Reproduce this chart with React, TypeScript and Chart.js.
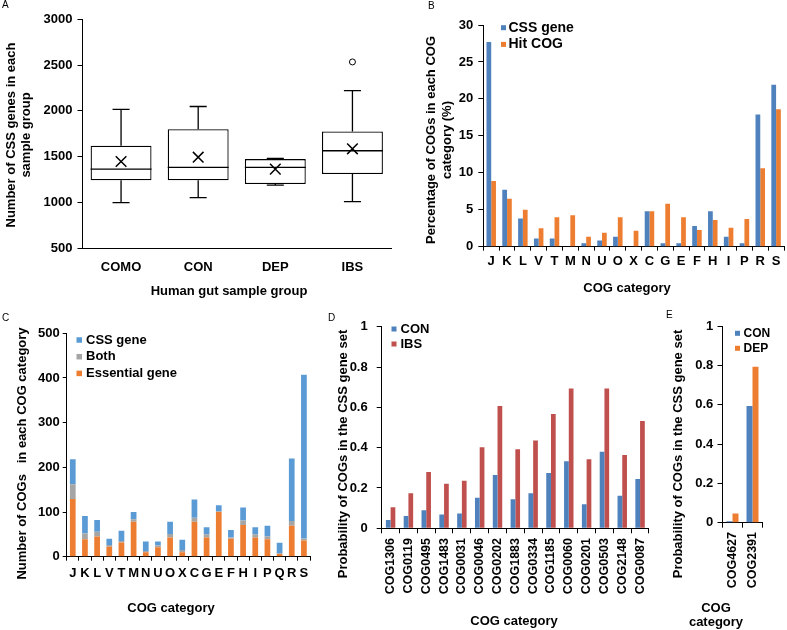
import React, { useEffect, useRef } from "react";
import { Chart, registerables } from "chart.js";

Chart.register(...registerables);
Chart.defaults.color = "#000";

const FONT = "'Liberation Sans', Arial, Helvetica, sans-serif";

// ---------- Panel A data (box plot) ----------
const groupsA = ["COMO", "CON", "DEP", "IBS"];
const minA = [995, 1050, 1188, 1006];
const q1A = [1240, 1240, 1200, 1308];
const medianA = [1362, 1381, 1381, 1563];
const q3A = [1617, 1799, 1472, 1774];
const maxA = [2015, 2047, 1480, 2221];
const meanA = [1446, 1493, 1362, 1584];
const outlierA = [null, null, null, 2534];
const ticksA = { min: 500, max: 3000, step: 500 };

// ---------- Panel B data ----------
const catsB = ["J", "K", "L", "V", "T", "M", "N", "U", "O", "X", "C", "G", "E", "F", "H", "I", "P", "R", "S"];
const cssGeneB = [27.7, 7.7, 3.8, 1.1, 1.1, 0, 0.45, 0.85, 1.35, 0, 4.8, 0.45, 0.45, 2.8, 4.8, 1.35, 0.45, 17.9, 21.9];
const hitCogB = [8.9, 6.5, 5.0, 2.5, 4.0, 4.25, 1.35, 1.9, 4.0, 2.15, 4.8, 5.8, 4.0, 2.25, 3.6, 2.55, 3.75, 10.6, 18.6];
const ticksB = { min: 0, max: 30, step: 5 };

// ---------- Panel C data (stacked) ----------
const catsC = ["J", "K", "L", "V", "T", "M", "N", "U", "O", "X", "C", "G", "E", "F", "H", "I", "P", "Q", "R", "S"];
const essentialC = [129, 39, 45, 22, 32, 78, 10, 21, 43, 10, 78, 43, 100, 40, 71, 43, 39, 6, 69, 36];
const bothC = [33, 13, 11, 4, 3, 6, 3, 4, 8, 5, 9, 7, 2, 3, 10, 7, 7, 2, 11, 5];
const cssGeneC = [56, 39, 26, 14, 23, 16, 21, 9, 27, 23, 41, 16, 13, 17, 29, 16, 23, 23, 140, 366];
const ticksC = { min: 0, max: 500, step: 100 };

// ---------- Panel D data ----------
const cogsD = ["COG1306", "COG0119", "COG0495", "COG1483", "COG0031", "COG0046", "COG0202", "COG1883", "COG0334", "COG1185", "COG0060", "COG0201", "COG0503", "COG2148", "COG0087"];
const conD = [0.041, 0.061, 0.089, 0.069, 0.074, 0.152, 0.264, 0.144, 0.174, 0.274, 0.332, 0.119, 0.38, 0.162, 0.245];
const ibsD = [0.104, 0.174, 0.279, 0.221, 0.236, 0.402, 0.607, 0.392, 0.436, 0.567, 0.693, 0.342, 0.693, 0.364, 0.532];
const ticksD = { min: 0, max: 1, step: 0.2 };

// ---------- Panel E data ----------
const cogsE = ["COG4627", "COG2391"];
const conE = [0.008, 0.593];
const depE = [0.047, 0.793];

// ---------- colours ----------
const BLUE = "#4F81BD";
const LIGHT_BLUE = "#5B9BD5";
const ORANGE = "#ED7D31";
const GRAY = "#A5A5A5";
const RED = "#C0504D";

type Area = { l: number; t: number; r: number; b: number };
type TitleItem = { text: string | string[]; x: number; y: number; rotate?: boolean; size?: number; lh?: number };

function font(size: number) {
  return { family: FONT, size, weight: "bold" as const };
}

function plainNumber(v: any) {
  const n = Math.round(Number(v) * 1000) / 1000;
  return String(n);
}

function titlesPlugin(items: TitleItem[]) {
  return {
    id: "customTitles",
    afterDraw(chart: any) {
      const ctx = chart.ctx as CanvasRenderingContext2D;
      items.forEach((it) => {
        const lines = Array.isArray(it.text) ? it.text : [it.text];
        const size = it.size ?? 13;
        const lh = it.lh ?? size * 1.2;
        ctx.save();
        ctx.font = `bold ${size}px ${FONT}`;
        ctx.fillStyle = "#000";
        ctx.textAlign = "center";
        ctx.textBaseline = "middle";
        ctx.translate(it.x, it.y);
        if (it.rotate) ctx.rotate(-Math.PI / 2);
        const n = lines.length;
        lines.forEach((line, k) => {
          ctx.fillText(line, 0, (k - (n - 1) / 2) * lh);
        });
        ctx.restore();
      });
    },
  };
}

function legendPlugin(spec: { x: number; y: number; row: number; box: number; gap: number; size: number; order: number[] }) {
  return {
    id: "customLegend",
    afterDraw(chart: any) {
      const ctx = chart.ctx as CanvasRenderingContext2D;
      ctx.save();
      spec.order.forEach((di, k) => {
        const ds = chart.data.datasets[di];
        const cy = spec.y + k * spec.row;
        ctx.fillStyle = ds.backgroundColor;
        ctx.fillRect(spec.x, cy - spec.box / 2, spec.box, spec.box);
        ctx.fillStyle = "#000";
        ctx.font = `bold ${spec.size}px ${FONT}`;
        ctx.textAlign = "left";
        ctx.textBaseline = "middle";
        ctx.fillText(ds.label, spec.x + spec.box + spec.gap, cy);
      });
      ctx.restore();
    },
  };
}

const boxWhiskerPlugin = {
  id: "boxWhiskers",
  afterDatasetsDraw(chart: any) {
    const ctx = chart.ctx as CanvasRenderingContext2D;
    const y = chart.scales.y;
    const meta = chart.getDatasetMeta(0);
    ctx.save();
    ctx.strokeStyle = "#000";
    ctx.lineWidth = 1.3;
    groupsA.forEach((_, i) => {
      const el = meta.data[i];
      const cx = el.x;
      const w = el.width;
      const cap = w * 0.28;
      const yMin = y.getPixelForValue(minA[i]);
      const yQ1 = y.getPixelForValue(q1A[i]);
      const yMed = y.getPixelForValue(medianA[i]);
      const yQ3 = y.getPixelForValue(q3A[i]);
      const yMax = y.getPixelForValue(maxA[i]);
      ctx.beginPath();
      ctx.moveTo(cx - w / 2, yMed);
      ctx.lineTo(cx + w / 2, yMed);
      ctx.moveTo(cx, yQ3);
      ctx.lineTo(cx, yMax);
      ctx.moveTo(cx - cap / 2, yMax);
      ctx.lineTo(cx + cap / 2, yMax);
      ctx.moveTo(cx, yQ1);
      ctx.lineTo(cx, yMin);
      ctx.moveTo(cx - cap / 2, yMin);
      ctx.lineTo(cx + cap / 2, yMin);
      ctx.stroke();
    });
    ctx.restore();
  },
};

function yAxis(area: Area, t: { min: number; max: number; step: number }, tickLength: number, padding: number) {
  return {
    type: "linear" as const,
    min: t.min,
    max: t.max,
    ticks: { stepSize: t.step, font: font(13), color: "#000", padding, callback: plainNumber },
    grid: { display: true, drawOnChartArea: false, drawTicks: true, tickLength, color: "#000", lineWidth: 1 },
    border: { display: true, color: "#000", width: 1 },
    afterFit: (s: any) => {
      s.width = area.l;
    },
  };
}

function xAxis(H: number, area: Area, opts: { ticks: boolean; tickLength: number; padding: number; rotate: boolean; size: number; stacked?: boolean }) {
  return {
    type: "category" as const,
    stacked: !!opts.stacked,
    offset: true,
    ticks: {
      font: font(opts.size),
      color: "#000",
      padding: opts.padding,
      autoSkip: false,
      minRotation: opts.rotate ? 90 : 0,
      maxRotation: opts.rotate ? 90 : 0,
    },
    grid: {
      display: opts.ticks,
      drawOnChartArea: false,
      drawTicks: opts.ticks,
      tickLength: opts.tickLength,
      color: "#000",
      lineWidth: 1,
      offset: true,
    },
    border: { display: true, color: "#000", width: 1 },
    afterFit: (s: any) => {
      s.height = H - area.b;
    },
  };
}

function baseOptions(W: number, area: Area) {
  return {
    responsive: false,
    animation: false as const,
    devicePixelRatio: 1,
    layout: { padding: { left: 0, top: area.t, right: W - area.r, bottom: 0 } },
    plugins: { legend: { display: false }, tooltip: { enabled: false }, title: { display: false } },
  };
}

// ---------- configs ----------
function configA(W: number, H: number) {
  const area: Area = { l: 82.5, t: 19.3, r: 396, b: 248 };
  return {
    type: "bar" as const,
    data: {
      labels: groupsA,
      datasets: [
        {
          type: "bar" as const,
          label: "IQR",
          data: q1A.map((q, i) => [q, q3A[i]]),
          backgroundColor: "#fff",
          borderColor: "#000",
          borderWidth: 1.3,
          borderSkipped: false,
          barPercentage: 0.79,
          categoryPercentage: 1,
          order: 3,
        },
        {
          type: "line" as const,
          label: "Mean",
          data: meanA,
          showLine: false,
          pointStyle: "crossRot",
          pointRadius: 7.5,
          pointBorderColor: "#000",
          pointBorderWidth: 1.5,
          pointBackgroundColor: "#000",
          order: 1,
        },
        {
          type: "line" as const,
          label: "Outlier",
          data: outlierA,
          showLine: false,
          pointStyle: "circle",
          pointRadius: 3,
          pointBorderColor: "#000",
          pointBorderWidth: 1,
          pointBackgroundColor: "#fff",
          order: 1,
        },
      ],
    },
    options: {
      ...baseOptions(W, area),
      scales: {
        x: xAxis(H, area, { ticks: false, tickLength: 0, padding: 12, rotate: false, size: 13 }),
        y: yAxis(area, ticksA, 5, 5),
      },
    },
    plugins: [
      boxWhiskerPlugin,
      titlesPlugin([
        { text: ["Number of CSS genes in each", "sample group"], x: 18.5, y: 135, rotate: true, lh: 15 },
        { text: "Human gut sample group", x: 229, y: 291 },
      ]),
    ],
  };
}

function configB(W: number, H: number) {
  const area: Area = { l: 93.3, t: 25, r: 394, b: 246.7 };
  return {
    type: "bar" as const,
    data: {
      labels: catsB,
      datasets: [
        { label: "CSS gene", data: cssGeneB, backgroundColor: BLUE, categoryPercentage: 0.6, barPercentage: 1 },
        { label: "Hit COG", data: hitCogB, backgroundColor: ORANGE, categoryPercentage: 0.6, barPercentage: 1 },
      ],
    },
    options: {
      ...baseOptions(W, area),
      scales: {
        x: xAxis(H, area, { ticks: true, tickLength: 4, padding: 3, rotate: false, size: 13 }),
        y: yAxis(area, ticksB, 5, 5),
      },
    },
    plugins: [
      legendPlugin({ x: 111, y: 27.7, row: 16.7, box: 5, gap: 2.5, size: 14, order: [0, 1] }),
      titlesPlugin([
        { text: ["Percentage of COGs in each COG", "category (%)"], x: 49, y: 140, rotate: true, lh: 16 },
        { text: "COG category", x: 237, y: 288.3 },
      ]),
    ],
  };
}

function configC(W: number, H: number) {
  const area: Area = { l: 66.7, t: 33.3, r: 310, b: 256.7 };
  const common = { categoryPercentage: 0.47, barPercentage: 1, stack: "s" };
  return {
    type: "bar" as const,
    data: {
      labels: catsC,
      datasets: [
        { label: "Essential gene", data: essentialC, backgroundColor: ORANGE, ...common },
        { label: "Both", data: bothC, backgroundColor: GRAY, ...common },
        { label: "CSS gene", data: cssGeneC, backgroundColor: LIGHT_BLUE, ...common },
      ],
    },
    options: {
      ...baseOptions(W, area),
      scales: {
        x: xAxis(H, area, { ticks: true, tickLength: 4, padding: 4.5, rotate: false, size: 13, stacked: true }),
        y: { ...yAxis(area, ticksC, 4, 3), stacked: true },
      },
    },
    plugins: [
      legendPlugin({ x: 76.5, y: 40, row: 16.7, box: 5.5, gap: 4, size: 13, order: [2, 1, 0] }),
      titlesPlugin([
        { text: "Number of COGs   in each COG category", x: 22, y: 153.5, rotate: true },
        { text: "COG category", x: 171, y: 308.3 },
      ]),
    ],
  };
}

function configD(W: number, H: number) {
  const area: Area = { l: 51.7, t: 26.7, r: 323, b: 228.3 };
  return {
    type: "bar" as const,
    data: {
      labels: cogsD,
      datasets: [
        { label: "CON", data: conD, backgroundColor: BLUE, categoryPercentage: 0.53, barPercentage: 1 },
        { label: "IBS", data: ibsD, backgroundColor: RED, categoryPercentage: 0.53, barPercentage: 1 },
      ],
    },
    options: {
      ...baseOptions(W, area),
      scales: {
        x: xAxis(H, area, { ticks: true, tickLength: 5, padding: 4.7, rotate: true, size: 12.5 }),
        y: yAxis(area, ticksD, 5, 9),
      },
    },
    plugins: [
      legendPlugin({ x: 61.5, y: 29, row: 15, box: 5, gap: 4, size: 13, order: [0, 1] }),
      titlesPlugin([
        { text: "Probability of COGs in the CSS gene set", x: 13, y: 154, rotate: true },
        { text: "COG category", x: 184, y: 321.7 },
      ]),
    ],
  };
}

function configE(W: number, H: number) {
  const area: Area = { l: 62.5, t: 26, r: 102.5, b: 222.7 };
  return {
    type: "bar" as const,
    data: {
      labels: cogsE,
      datasets: [
        { label: "CON", data: conE, backgroundColor: BLUE, categoryPercentage: 0.6, barPercentage: 1 },
        { label: "DEP", data: depE, backgroundColor: ORANGE, categoryPercentage: 0.6, barPercentage: 1 },
      ],
    },
    options: {
      ...baseOptions(W, area),
      scales: {
        x: xAxis(H, area, { ticks: true, tickLength: 5, padding: 4.3, rotate: true, size: 12.5 }),
        y: yAxis(area, ticksD, 5, 4.2),
      },
    },
    plugins: [
      legendPlugin({ x: 75, y: 33.3, row: 15, box: 5, gap: 3.5, size: 12, order: [0, 1] }),
      titlesPlugin([
        { text: "Probability of COGs in the CSS gene set", x: 18, y: 154, rotate: true },
        { text: ["COG", "category"], x: 56, y: 315.2, lh: 14.5 },
      ]),
    ],
  };
}

function Panel({ left, top, width, height, build }: { left: number; top: number; width: number; height: number; build: (w: number, h: number) => any }) {
  const ref = useRef<HTMLCanvasElement | null>(null);
  useEffect(() => {
    if (!ref.current) return;
    const chart = new Chart(ref.current, build(width, height));
    return () => chart.destroy();
  }, []);
  return <canvas ref={ref} width={width} height={height} style={{ position: "absolute", left, top, width, height }} />;
}

function Letter({ ch, left, top }: { ch: string; left: number; top: number }) {
  return (
    <div style={{ position: "absolute", left, top, fontFamily: FONT, fontSize: 10, lineHeight: "10px", color: "#000" }}>{ch}</div>
  );
}

export default function App() {
  return (
    <div style={{ position: "absolute", left: 0, top: 0, width: 787, height: 630, background: "#fff", overflow: "hidden" }}>
      <Panel left={0} top={0} width={400} height={300} build={configA} />
      <Panel left={390} top={0} width={397} height={300} build={configB} />
      <Panel left={0} top={300} width={330} height={330} build={configC} />
      <Panel left={330} top={300} width={330} height={330} build={configD} />
      <Panel left={660} top={300} width={127} height={330} build={configE} />
      <Letter ch="A" left={2} top={0} />
      <Letter ch="B" left={428} top={1} />
      <Letter ch="C" left={2} top={313} />
      <Letter ch="D" left={328} top={313} />
      <Letter ch="E" left={666} top={310} />
    </div>
  );
}
